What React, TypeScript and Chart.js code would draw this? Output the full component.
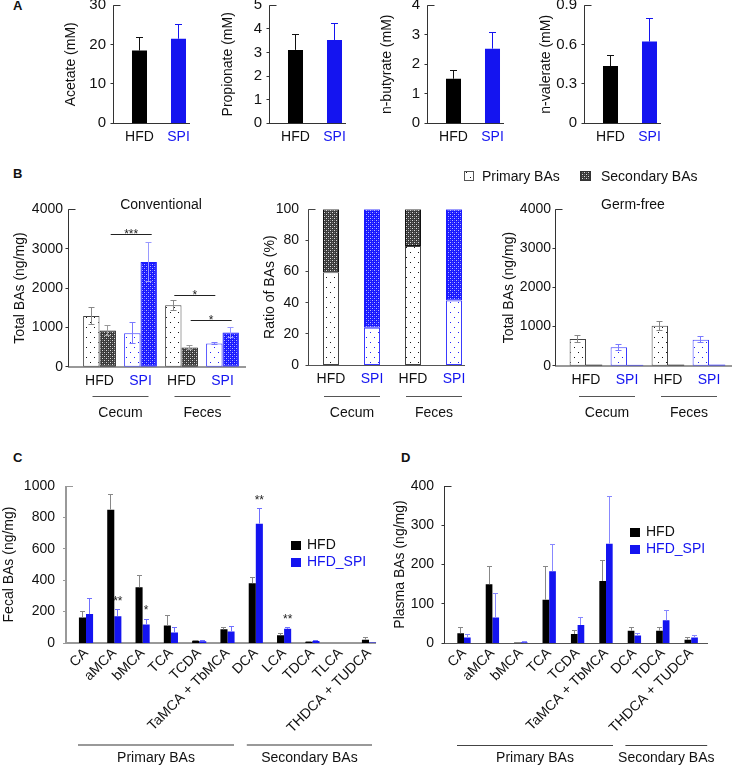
import React, { useEffect, useRef } from 'react';
import { Chart, registerables } from 'chart.js';
Chart.register(...registerables);

const FONT = "'Liberation Sans', Arial, Helvetica, sans-serif";
const BLUE = '#1414f0';
const W = 732;
const H = 767;

// ---------- Panel A ----------
const A_LABELS = ['HFD', 'SPI'];
const ACETATE = [18.5, 21.5];
const ACETATE_ERR = [3.4, 3.7];
const PROPIONATE = [3.11, 3.53];
const PROPIONATE_ERR = [0.66, 0.72];
const BUTYRATE = [1.51, 2.53];
const BUTYRATE_ERR = [0.29, 0.54];
const VALERATE = [0.437, 0.623];
const VALERATE_ERR = [0.082, 0.175];

// ---------- Panel B ----------
const B_LABELS = ['HFD', 'SPI', 'HFD', 'SPI'];
const B_SITES = ['Cecum', 'Feces'];
const CONV_PRIMARY = [1290, 850, 1560, 590];
const CONV_PRIMARY_ERR = [220, 270, 125, 25];
const CONV_SECONDARY = [920, 2660, 485, 870];
const CONV_SECONDARY_ERR = [130, 500, 45, 130];
const RATIO_PRIMARY = [59.5, 24, 76.5, 41.5];
const RATIO_SECONDARY = [40.5, 76, 23.5, 58.5];
const GF_PRIMARY = [685, 470, 1020, 665];
const GF_PRIMARY_ERR = [95, 75, 120, 70];
const GF_SECONDARY = [28, 22, 28, 30];

// ---------- Panel C ----------
const C_CATS = ['CA', 'aMCA', 'bMCA', 'TCA', 'TCDA', 'TaMCA + TbMCA', 'DCA', 'LCA', 'TDCA', 'TLCA', 'THDCA + TUDCA'];
const C_HFD = [162, 849, 355, 111, 15, 87, 381, 50, 8, 0, 21];
const C_HFD_ERR = [38, 100, 75, 62, 4, 10, 36, 8, 2, 0, 17];
const C_SPI = [184, 171, 118, 67, 11, 74, 760, 90, 12, 0, 3];
const C_SPI_ERR = [97, 42, 32, 29, 3, 32, 96, 6, 5, 0, 0];

// ---------- Panel D ----------
const D_CATS = ['CA', 'aMCA', 'bMCA', 'TCA', 'TCDA', 'TaMCA + TbMCA', 'DCA', 'TDCA', 'THDCA + TUDCA'];
const D_HFD = [25, 150, 1, 110, 23, 158, 31, 31, 8];
const D_HFD_ERR = [15, 46, 1, 84, 8, 52, 9, 9, 5];
const D_SPI = [14, 65, 2, 183, 46, 253, 19, 58, 14];
const D_SPI_ERR = [8, 62, 3, 68, 19, 121, 6, 25, 5];

const SERIES = ['HFD', 'HFD_SPI'];
const BA_GROUPS = ['Primary BAs', 'Secondary BAs'];

function crisp(v: number, w: number) {
  return Math.round(w) % 2 === 1 ? Math.floor(v) + 0.5 : Math.round(v);
}

function makePatterns() {
  const mk = (w: number, h: number, draw: (x: CanvasRenderingContext2D) => void) => {
    const c = document.createElement('canvas');
    c.width = w; c.height = h;
    const x = c.getContext('2d')!;
    draw(x);
    const ctx = document.createElement('canvas').getContext('2d')!;
    return ctx.createPattern(c, 'repeat')!;
  };
  const dot = (col: string) => mk(8, 10, (x) => {
    x.fillStyle = '#fff'; x.fillRect(0, 0, 8, 10);
    x.fillStyle = col; x.fillRect(2, 2, 1, 1); x.fillRect(6, 7, 1, 1);
  });
  const check = (bg: string, light: string, mid: string) => mk(4, 4, (x) => {
    x.fillStyle = bg; x.fillRect(0, 0, 4, 4);
    x.fillStyle = light; x.fillRect(0, 0, 1, 1); x.fillRect(2, 2, 1, 1);
    x.fillStyle = mid; x.fillRect(2, 0, 1, 1); x.fillRect(0, 2, 1, 1);
  });
  return {
    dotBlack: dot('#111'),
    dotBlue: dot('#2020ff'),
    checkBlack: check('#3a3a3a', '#dddddd', '#777777'),
    checkBlue: check('#1818ff', '#b8b8ff', '#5050ff'),
  };
}

function line(ctx: CanvasRenderingContext2D, x1: number, y1: number, x2: number, y2: number) {
  ctx.beginPath(); ctx.moveTo(x1, y1); ctx.lineTo(x2, y2); ctx.stroke();
}

function makeFig(o: any) {
  return {
    id: 'fig',
    beforeDatasetsDraw(chart: any) {
      const ctx = chart.ctx as CanvasRenderingContext2D;
      const ys = chart.scales.y;
      const y0 = ys.getPixelForValue(ys.min);
      const y1 = ys.getPixelForValue(ys.max);
      ctx.save();
      ctx.lineWidth = o.xAxisWidth || 1;
      ctx.strokeStyle = o.xAxisColor || '#333';
      const yy = crisp(y0, ctx.lineWidth);
      line(ctx, o.axisX, yy, o.axisEnd, yy);
      ctx.lineWidth = o.axisWidth || 1;
      ctx.strokeStyle = o.axisColor || '#333';
      const xx = crisp(o.axisX, ctx.lineWidth);
      line(ctx, xx, y1, xx, y0);
      ys.ticks.forEach((t: any) => {
        const y = crisp(ys.getPixelForValue(t.value), 1);
        ctx.lineWidth = 1;
        if (Math.abs(t.value - ys.max) < 1e-9) line(ctx, xx, y, xx + 7, y);
        else line(ctx, xx - 3, y, xx, y);
      });
      ctx.restore();
    },
    afterDatasetsDraw(chart: any) {
      const ctx = chart.ctx as CanvasRenderingContext2D;
      const ys = chart.scales.y;
      const xs = chart.scales.x;
      ctx.save();
      const cap = o.cap || 3;
      // error bars
      chart.data.datasets.forEach((ds: any, di: number) => {
        if (!ds.err) return;
        const meta = chart.getDatasetMeta(di);
        meta.data.forEach((bar: any, i: number) => {
          const e = ds.err[i];
          if (!e) return;
          const v = ds.data[i];
          const x = crisp(bar.x, 1);
          const yt = ys.getPixelForValue(v + e);
          const yb = ds.errBoth ? ys.getPixelForValue(Math.max(v - e, 0)) : bar.y;
          ctx.strokeStyle = Array.isArray(ds.errColor) ? ds.errColor[i] : ds.errColor;
          ctx.lineWidth = 1;
          line(ctx, x, yb, x, yt);
          line(ctx, x - cap, crisp(yt, 1), x + cap, crisp(yt, 1));
          if (ds.errBoth) line(ctx, x - cap, crisp(yb, 1), x + cap, crisp(yb, 1));
        });
      });
      ctx.textAlign = 'center';
      // significance brackets
      (o.brackets || []).forEach((b: any) => {
        const m = chart.getDatasetMeta(b.ds);
        const xa = m.data[b.a].x + (b.dx || 0);
        const xb = m.data[b.b].x + (b.dx || 0);
        const y = crisp(ys.getPixelForValue(b.v), 1);
        ctx.strokeStyle = '#222'; ctx.lineWidth = 1;
        line(ctx, xa, y, xb, y);
        ctx.fillStyle = '#222';
        ctx.font = `12px ${FONT}`;
        ctx.textBaseline = 'alphabetic';
        ctx.fillText(b.text, (xa + xb) / 2, y + 3);
      });
      // stars over bars
      (o.stars || []).forEach((s: any) => {
        const ds = chart.data.datasets[s.ds];
        const bar = chart.getDatasetMeta(s.ds).data[s.i];
        const y = ys.getPixelForValue(ds.data[s.i] + (ds.err ? ds.err[s.i] : 0));
        ctx.fillStyle = '#222';
        ctx.font = `12px ${FONT}`;
        ctx.textBaseline = 'alphabetic';
        ctx.fillText(s.text, bar.x, y - 5);
      });
      // category groups (lines + labels)
      (o.groups || []).forEach((g: any) => {
        const a = xs.getPixelForValue(g.from) + g.dl;
        const b = xs.getPixelForValue(g.to) + g.dr;
        ctx.strokeStyle = o.groupColor || '#555';
        ctx.lineWidth = o.groupWidth || 1;
        const gy = crisp(o.groupY, ctx.lineWidth);
        line(ctx, a, gy, b, gy);
        ctx.fillStyle = '#111';
        ctx.font = `14px ${FONT}`;
        ctx.textBaseline = 'middle';
        ctx.fillText(g.label, (a + b) / 2, o.groupTextY);
      });
      // simple legend
      if (o.legend) {
        const L = o.legend;
        L.items.forEach((it: any, i: number) => {
          const y = L.y + i * L.gap;
          ctx.fillStyle = it.color;
          ctx.fillRect(L.x, Math.round(y - 4.5), 10, 9);
          ctx.fillStyle = it.textColor;
          ctx.font = `14px ${FONT}`;
          ctx.textAlign = 'left';
          ctx.textBaseline = 'middle';
          ctx.fillText(it.text, L.x + 16, y);
        });
      }
      // pattern legend
      (o.patLegend || []).forEach((p: any) => {
        ctx.fillStyle = p.fill;
        ctx.fillRect(p.x, p.y, p.w, p.h);
        ctx.strokeStyle = p.stroke; ctx.lineWidth = 1;
        ctx.strokeRect(p.x + 0.5, p.y + 0.5, p.w - 1, p.h - 1);
        ctx.fillStyle = '#111';
        ctx.font = `14px ${FONT}`;
        ctx.textAlign = 'left';
        ctx.textBaseline = 'middle';
        ctx.fillText(p.label, p.tx, p.ty);
      });
      if (o.caption) {
        ctx.fillStyle = '#111';
        ctx.font = `14px ${FONT}`;
        ctx.textAlign = 'center';
        ctx.textBaseline = 'middle';
        ctx.fillText(o.caption.text, o.caption.x, o.caption.y);
      }
      ctx.restore();
    },
  };
}

function makeConfig(p: any): any {
  const lh = 14 * 1.2;
  const leftEdge = p.titleX - lh / 2;
  const yw = p.areaLeft - leftEdge;
  const xh = p.xh || 34;
  return {
    type: 'bar',
    data: { labels: p.labels, datasets: p.datasets },
    options: {
      responsive: false,
      maintainAspectRatio: false,
      animation: false,
      events: [],
      layout: { padding: { left: leftEdge, right: W - p.areaRight, top: p.top, bottom: H - p.bottom - xh } },
      plugins: { legend: { display: false }, tooltip: { enabled: false }, title: { display: false } },
      scales: {
        x: {
          type: 'category',
          offset: true,
          stacked: !!p.stacked,
          grid: { display: false, drawTicks: false },
          border: { display: false },
          ticks: {
            autoSkip: false,
            padding: p.xPad,
            color: p.xColor || '#111',
            font: { size: 14, family: FONT },
            maxRotation: p.rot || 0,
            minRotation: p.rot || 0,
          },
          afterFit: (s: any) => { s.height = xh; s.paddingLeft = 0; s.paddingRight = 0; },
        },
        y: {
          min: p.min,
          max: p.max,
          stacked: !!p.stacked,
          grid: { display: false, drawTicks: false },
          border: { display: false },
          ticks: {
            stepSize: p.step,
            padding: p.areaLeft - (p.fig.axisX - p.labelGap),
            color: '#111',
            font: { size: p.yFont || 14, family: FONT },
            callback: (v: any) => String(Math.round(Number(v) * 1000) / 1000),
          },
          title: { display: true, text: p.yTitle, color: '#111', font: { size: 14, family: FONT }, padding: 0 },
          afterFit: (s: any) => { s.width = yw; s.paddingTop = 0; s.paddingBottom = 0; },
        },
      },
    },
    plugins: [makeFig(p.fig)],
  };
}

function panelA(values: number[], errs: number[], max: number, step: number, title: string, axisX: number, titleX: number) {
  return () =>
    makeConfig({
      labels: A_LABELS,
      datasets: [
        {
          data: values,
          err: errs,
          errColor: ['#111', BLUE],
          backgroundColor: ['#000', BLUE],
          barPercentage: 0.385,
          categoryPercentage: 1,
        },
      ],
      min: 0, max, step,
      yTitle: title,
      yFont: 15,
      titleX,
      areaLeft: axisX + 7,
      areaRight: axisX + 85,
      top: 5.3,
      bottom: 123.3,
      labelGap: 7,
      xPad: 5.3,
      xColor: (c: any) => (A_LABELS[c.index] === 'SPI' ? BLUE : '#111'),
      fig: { axisX, axisEnd: axisX + 77, axisColor: '#333', xAxisColor: '#333', cap: 3.5 },
    });
}

function bDatasets(pats: any, primary: number[], pErr: number[] | null, secondary: number[], sErr: number[] | null, stacked: boolean) {
  const isSpi = B_LABELS.map((l) => l === 'SPI');
  const base = stacked ? { barPercentage: 0.39, categoryPercentage: 1 } : { barPercentage: 1, categoryPercentage: 0.8 };
  return [
    {
      ...base,
      label: BA_GROUPS[0],
      data: primary,
      err: pErr,
      errBoth: true,
      errColor: isSpi.map((s) => (s ? '#7a7aff' : '#888')),
      backgroundColor: isSpi.map((s) => (s ? pats.dotBlue : pats.dotBlack)),
      borderColor: isSpi.map((s) => (s ? '#3a3aff' : '#444')),
      borderWidth: 1,
      borderSkipped: false,
    },
    {
      ...base,
      label: BA_GROUPS[1],
      data: secondary,
      err: sErr,
      errBoth: true,
      errColor: isSpi.map((s) => (s ? '#9a9aff' : '#999')),
      backgroundColor: isSpi.map((s) => (s ? pats.checkBlue : pats.checkBlack)),
      borderColor: isSpi.map((s) => (s ? '#1a1aff' : '#111')),
      borderWidth: 1,
      borderSkipped: false,
    },
  ];
}

const bGroups = [
  { from: 0, to: 1, dl: -7, dr: 8, label: B_SITES[0] },
  { from: 2, to: 3, dl: -7, dr: 8, label: B_SITES[1] },
];

function cdDatasets(hfd: number[], hErr: number[], spi: number[], sErr: number[], catPct: number, spiErrColor: string) {
  return [
    { label: SERIES[0], data: hfd, err: hErr, errColor: '#888', backgroundColor: '#000', barPercentage: 1, categoryPercentage: catPct },
    { label: SERIES[1], data: spi, err: sErr, errColor: spiErrColor, backgroundColor: BLUE, barPercentage: 1, categoryPercentage: catPct },
  ];
}

const legendItems = [
  { color: '#000', text: SERIES[0], textColor: '#111' },
  { color: BLUE, text: SERIES[1], textColor: BLUE },
];

function ChartCanvas({ make }: { make: () => any }) {
  const ref = useRef<HTMLCanvasElement>(null);
  useEffect(() => {
    const chart = new Chart(ref.current!, make());
    return () => chart.destroy();
  }, []);
  return <canvas ref={ref} width={W} height={H} style={{ position: 'absolute', left: 0, top: 0, width: W, height: H }} />;
}

const letterStyle = (left: number, top: number): React.CSSProperties => ({
  position: 'absolute', left, top, fontSize: 13, lineHeight: '13px', fontWeight: 'bold', fontFamily: FONT, color: '#111',
});

const bTickColor = (c: any) => (B_LABELS[c.index] === 'SPI' ? BLUE : '#111');

export default function App() {
  const makers: (() => any)[] = [
    panelA(ACETATE, ACETATE_ERR, 30, 10, 'Acetate (mM)', 113, 71),
    panelA(PROPIONATE, PROPIONATE_ERR, 5, 1, 'Propionate (mM)', 269, 228),
    panelA(BUTYRATE, BUTYRATE_ERR, 4, 1, 'n-butyrate (mM)', 427, 387),
    panelA(VALERATE, VALERATE_ERR, 0.9, 0.3, 'n-valerate (mM)', 584, 546),
    () => {
      const pats = makePatterns();
      return makeConfig({
        labels: B_LABELS,
        datasets: bDatasets(pats, CONV_PRIMARY, CONV_PRIMARY_ERR, CONV_SECONDARY, CONV_SECONDARY_ERR, false),
        min: 0, max: 4000, step: 1000,
        yTitle: 'Total BAs (ng/mg)',
        titleX: 20, areaLeft: 79, areaRight: 243, top: 209.3, bottom: 366.7, labelGap: 5, xPad: 5.6,
        xColor: bTickColor,
        fig: {
          axisX: 68, axisEnd: 246, axisColor: '#333', xAxisColor: '#777', xAxisWidth: 1.5, cap: 3,
          groups: bGroups, groupY: 396, groupTextY: 413, groupColor: '#555',
          brackets: [
            { ds: 1, a: 0, b: 1, v: 3350, dx: 3, text: '***' },
            { ds: 0, a: 2, b: 3, v: 1800, dx: 1, text: '*' },
            { ds: 1, a: 2, b: 3, v: 1170, dx: 1, text: '*' },
          ],
          caption: { text: 'Conventional', x: 161, y: 205 },
        },
      });
    },
    () => {
      const pats = makePatterns();
      return makeConfig({
        labels: B_LABELS,
        datasets: bDatasets(pats, RATIO_PRIMARY, null, RATIO_SECONDARY, null, true),
        stacked: true,
        min: 0, max: 100, step: 20,
        yTitle: 'Ratio of BAs (%)',
        titleX: 270, areaLeft: 310.5, areaRight: 474.5, top: 209.3, bottom: 365, labelGap: 9, xPad: 6,
        xColor: bTickColor,
        fig: {
          axisX: 308, axisEnd: 465, axisColor: '#444', xAxisColor: '#555', cap: 3,
          groups: bGroups, groupY: 396, groupTextY: 413, groupColor: '#555',
          patLegend: [
            { x: 464, y: 171, w: 10, h: 10, fill: pats.dotBlack, stroke: '#555', label: BA_GROUPS[0], tx: 482, ty: 177 },
            { x: 580, y: 171, w: 11, h: 10, fill: pats.checkBlack, stroke: '#333', label: BA_GROUPS[1], tx: 601, ty: 177 },
          ],
        },
      });
    },
    () => {
      const pats = makePatterns();
      return makeConfig({
        labels: B_LABELS,
        datasets: bDatasets(pats, GF_PRIMARY, GF_PRIMARY_ERR, GF_SECONDARY, null, false),
        min: 0, max: 4000, step: 1000,
        yTitle: 'Total BAs (ng/mg)',
        titleX: 509, areaLeft: 565.5, areaRight: 729.5, top: 209.3, bottom: 365.7, labelGap: 4, xPad: 6,
        xColor: bTickColor,
        fig: {
          axisX: 555, axisEnd: 732, axisColor: '#333', xAxisColor: '#999', xAxisWidth: 2, cap: 3,
          groups: bGroups, groupY: 396, groupTextY: 413, groupColor: '#555',
          caption: { text: 'Germ-free', x: 633, y: 205 },
        },
      });
    },
    () =>
      makeConfig({
        labels: C_CATS,
        datasets: cdDatasets(C_HFD, C_HFD_ERR, C_SPI, C_SPI_ERR, 0.5, '#7070ff'),
        min: 0, max: 1000, step: 200,
        yTitle: 'Fecal BAs (ng/mg)',
        titleX: 9, areaLeft: 71.85, areaRight: 383.15, top: 486, bottom: 643, labelGap: 11, xPad: 2, rot: 45, xh: 110,
        fig: {
          axisX: 66, axisEnd: 376, axisColor: '#999', axisWidth: 2, xAxisColor: '#999', xAxisWidth: 2, cap: 2.5,
          groups: [
            { from: 0, to: 5, dl: -8, dr: 6.5, label: BA_GROUPS[0] },
            { from: 6, to: 10, dl: -9, dr: 3, label: BA_GROUPS[1] },
          ],
          groupY: 745, groupTextY: 758, groupColor: '#999', groupWidth: 2,
          stars: [
            { ds: 1, i: 1, text: '**' },
            { ds: 1, i: 2, text: '*' },
            { ds: 1, i: 6, text: '**' },
            { ds: 1, i: 7, text: '**' },
          ],
          legend: { x: 291, y: 545.5, gap: 17, items: legendItems },
        },
      }),
    () =>
      makeConfig({
        labels: D_CATS,
        datasets: cdDatasets(D_HFD, D_HFD_ERR, D_SPI, D_SPI_ERR, 0.47, '#8888ff'),
        min: 0, max: 400, step: 100,
        yTitle: 'Plasma BAs (ng/mg)',
        titleX: 400, areaLeft: 449.8, areaRight: 705.4, top: 486, bottom: 643, labelGap: 10, xPad: 2, rot: 45, xh: 110,
        fig: {
          axisX: 444, axisEnd: 708, axisColor: '#333', xAxisColor: '#555', cap: 2.5,
          groups: [
            { from: 0, to: 5, dl: -7, dr: 7, label: BA_GROUPS[0] },
            { from: 6, to: 8, dl: -9, dr: 16, label: BA_GROUPS[1] },
          ],
          groupY: 745, groupTextY: 758, groupColor: '#444',
          legend: { x: 630, y: 532.5, gap: 17, items: legendItems },
        },
      }),
  ];
  return (
    <div style={{ position: 'absolute', left: 0, top: 0, width: W, height: H, background: '#fff', overflow: 'hidden' }}>
      <div style={letterStyle(13, -1)}>A</div>
      <div style={letterStyle(13, 167)}>B</div>
      <div style={letterStyle(13, 450.5)}>C</div>
      <div style={letterStyle(401, 450.5)}>D</div>
      {makers.map((m, i) => (
        <ChartCanvas key={i} make={m} />
      ))}
    </div>
  );
}
